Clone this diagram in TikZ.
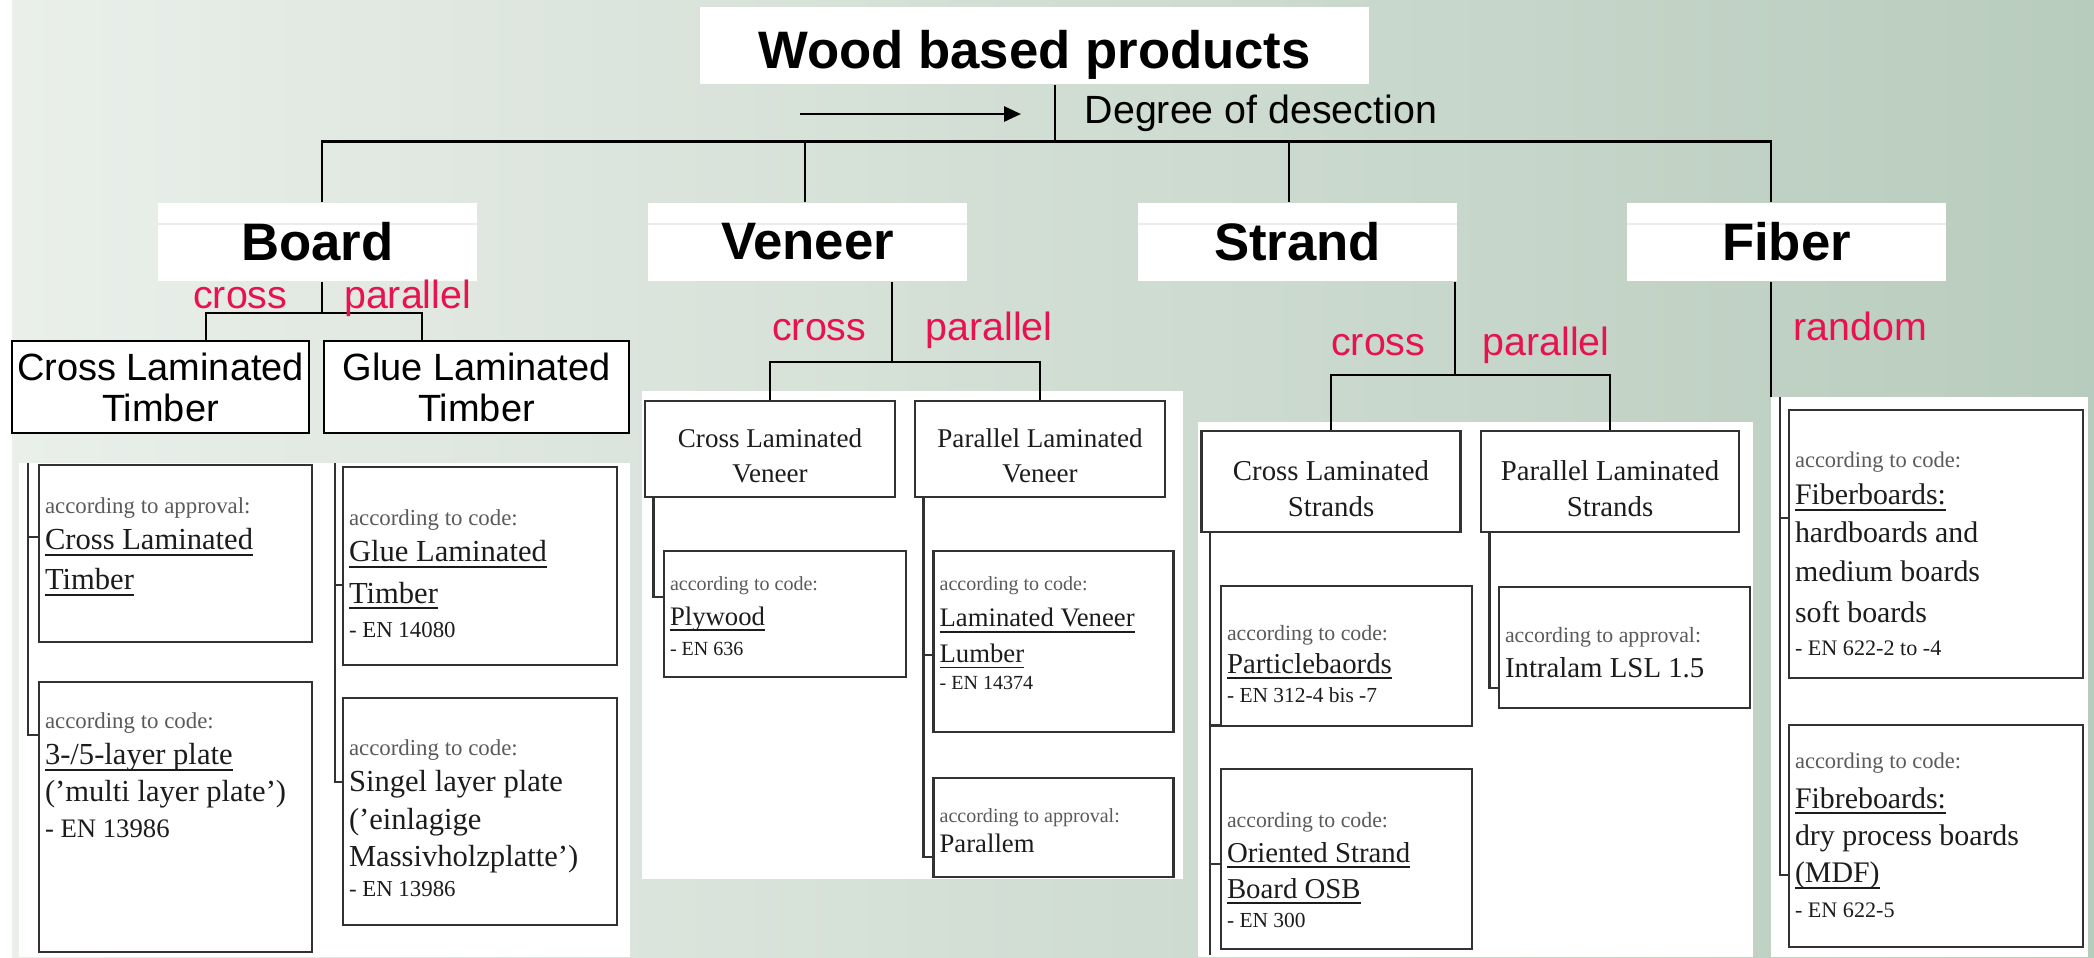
\documentclass[tikz,border=0pt]{standalone}
\usepackage{fontspec}
\setmainfont{Liberation Serif}
\setsansfont{Liberation Sans}
\usepackage{tikz}
\usetikzlibrary{arrows.meta}
\usepackage{xcolor}
\definecolor{BgLeft}{RGB}{234,239,234}
\definecolor{BgRight}{RGB}{184,204,189}
\definecolor{LabelRed}{RGB}{232,18,78}
\definecolor{AccGray}{RGB}{90,90,90}
\definecolor{TxtDark}{RGB}{28,28,28}
\definecolor{PanLine}{RGB}{50,50,50}
\setlength{\parindent}{0pt}
\newcommand{\pcell}[3]{\parbox[c][#1][t]{#2}{#3}}
\newcommand{\acctxt}[4]{{\fontsize{#1}{#2}\selectfont\leavevmode\color{AccGray}\rule{0pt}{#3}#4\par}}
\newcommand{\maintxt}[3]{{\fontsize{#1}{#2}\selectfont\leavevmode\color{TxtDark}#3\par}}
\newcommand{\hdrtxt}[4]{\centering\fontsize{#1}{#2}\selectfont\leavevmode\rule{0pt}{#3}#4\par}
\newcommand{\ulx}[1]{\underline{\smash{#1}}}

\begin{document}
\begin{tikzpicture}[x=1cm,y=1cm,
  headbox/.style={fill=white,minimum width=6.69cm,minimum height=0.77cm,inner sep=0pt,
                  font=\sffamily\bfseries\fontsize{15}{18}\selectfont,text height=0.45cm,text depth=0cm},
  catbox/.style={fill=white,minimum width=3.19cm,minimum height=0.78cm,inner sep=0pt,
                 font=\sffamily\bfseries\fontsize{15}{18}\selectfont,
                 path picture={\draw[black!8,line width=0.5pt] ([yshift=-0.21cm]path picture bounding box.north west) -- ([yshift=-0.21cm]path picture bounding box.north east);}},
  tbox/.style={draw=black,line width=0.7pt,fill=white,align=center,inner sep=0pt,
               font=\sffamily\fontsize{10.8}{11.7}\selectfont},
  hbox/.style={draw=PanLine,line width=0.8pt,fill=white,inner sep=0pt,text=TxtDark},
  pbox/.style={draw=PanLine,line width=0.8pt,fill=white,inner xsep=0.06cm,inner ysep=0pt},
  redlab/.style={text=LabelRed,font=\sffamily\fontsize{11.2}{13}\selectfont,inner sep=0pt},
  note/.style={font=\sffamily\fontsize{11.2}{13}\selectfont,inner sep=0pt},
  ln/.style={line width=0.8pt,black},
  pln/.style={line width=0.7pt,PanLine},
  arr/.style={-{Triangle[length=0.17cm,width=0.15cm]},line width=0.8pt,black}
]
\useasboundingbox (0,0) rectangle (20.94,-9.57);
\fill[white] (0,0) rectangle (20.94,-9.57);
\shade[left color=BgLeft,right color=BgRight] (0.12,0) rectangle (20.94,-9.57);

\node[headbox] (wbp) at (10.345,-0.455) {Wood based products};
\coordinate (arrS) at (8.00,-1.14);
\coordinate (arrE) at (10.21,-1.14);
\draw[arr] (arrS) -- (arrE);
\coordinate (busT) at (10.55,-1.415);
\draw[ln] (wbp.south -| busT) -- (busT);
\node[note,anchor=base west] (deg) at (10.84,-1.23) {Degree of desection};

\node[catbox] (board) at (3.175,-2.42) {Board};
\node[catbox] (veneer) at (8.075,-2.42) {Veneer};
\node[catbox] (strand) at (12.975,-2.42) {Strand};
\node[catbox] (fiber) at (17.865,-2.42) {Fiber};
\draw[ln] (board.north -| 3.22,0) |- (busT) -| (fiber.north -| 17.71,0);
\draw[ln] (veneer.north -| 8.05,0) -- (busT -| 8.05,0);
\draw[ln] (strand.north -| 12.89,0) -- (busT -| 12.89,0);

\coordinate (bJ) at (3.22,-3.13);
\draw[ln] (board.south -| bJ) -- (bJ);
\node[tbox,minimum width=2.97cm,minimum height=0.92cm] (clt) at (1.605,-3.87) {Cross Laminated\\Timber};
\node[tbox,minimum width=3.05cm,minimum height=0.92cm] (glt) at (4.765,-3.87) {Glue Laminated\\Timber};
\draw[ln] (clt.north -| 2.06,0) |- (bJ) -| (glt.north -| 4.22,0);
\node[redlab,anchor=base east] (bcross) at (2.88,-3.08) {cross};
\node[redlab,anchor=base west] (bpar) at (3.435,-3.08) {parallel};

\fill[white] (0.19,-4.63) rectangle (6.30,-9.57);
\node[pbox] (cltA) at (1.755,-5.535) {\pcell{1.77cm}{2.61cm}{%
  \acctxt{6.5}{8}{0.48cm}{according to approval:}\maintxt{8.7}{10.5}{\ulx{Cross Laminated}}\maintxt{8.7}{11.4}{\ulx{Timber}}}};
\node[pbox] (layA) at (1.755,-8.17) {\pcell{2.70cm}{2.61cm}{%
  \acctxt{6.5}{8}{0.46cm}{according to code:}\maintxt{8.7}{10.5}{\ulx{3-/5-layer plate}}\maintxt{8.7}{10.5}{('multi layer plate')}\maintxt{7.6}{10.2}{- EN 13986}}};
\node[pbox] (gltA) at (4.80,-5.66) {\pcell{1.98cm}{2.62cm}{%
  \acctxt{6.5}{8}{0.58cm}{according to code:}\maintxt{8.7}{10.5}{\ulx{Glue Laminated}}\maintxt{8.7}{11.7}{\ulx{Timber}}\maintxt{6.5}{9.7}{- EN 14080}}};
\node[pbox] (sglA) at (4.80,-8.115) {\pcell{2.27cm}{2.62cm}{%
  \acctxt{6.5}{8}{0.57cm}{according to code:}\maintxt{8.7}{10.5}{Singel layer plate}\maintxt{8.7}{10.8}{('einlagige}\maintxt{8.7}{10.5}{Massivholzplatte')}\maintxt{6.5}{8.5}{- EN 13986}}};
\coordinate (bpL) at (0.28,-4.63);
\coordinate (bpR) at (3.35,-4.63);
\draw[pln] (bpL) |- ([yshift=8.2mm]layA.west);
\draw[pln] ([yshift=1.65mm]cltA.west) -| (bpL);
\draw[pln] (bpR) |- ([yshift=2.95mm]sglA.west);
\draw[pln] ([yshift=-1.9mm]gltA.west) -| (bpR);

\coordinate (vJ) at (8.92,-3.62);
\draw[ln] (veneer.south -| vJ) -- (vJ);
\node[redlab,anchor=base east] (vcross) at (8.67,-3.40) {cross};
\node[redlab,anchor=base west] (vpar) at (9.25,-3.40) {parallel};
\fill[white] (6.42,-3.91) rectangle (11.83,-8.79);
\node[hbox] (clv) at (7.70,-4.49) {\pcell{0.96cm}{2.5cm}{\hdrtxt{7.7}{10.2}{0.46cm}{Cross Laminated\\Veneer}}};
\node[hbox] (plv) at (10.40,-4.49) {\pcell{0.96cm}{2.5cm}{\hdrtxt{7.7}{10.2}{0.46cm}{Parallel Laminated\\Veneer}}};
\draw[ln] (clv.north) |- (vJ) -| (plv.north);
\node[pbox] (plyA) at (7.85,-6.14) {\pcell{1.26cm}{2.30cm}{%
  \acctxt{5.7}{7}{0.39cm}{according to code:}\maintxt{7.6}{10}{\ulx{Plywood}}\maintxt{5.7}{8.5}{- EN 636}}};
\node[pbox] (lvlA) at (10.536,-6.415) {\pcell{1.81cm}{2.28cm}{%
  \acctxt{5.7}{7}{0.39cm}{according to code:}\maintxt{7.6}{10.5}{\ulx{Laminated Veneer}}\maintxt{7.6}{10.2}{\ulx{Lumber}}\maintxt{5.7}{7.7}{- EN 14374}}};
\node[pbox] (parA) at (10.536,-8.275) {\pcell{0.99cm}{2.28cm}{%
  \acctxt{5.7}{7}{0.44cm}{according to approval:}\maintxt{7.6}{8.8}{Parallem}}};
\draw[pln] ([xshift=1mm]clv.south west) |- ([yshift=1.7mm]plyA.west);
\draw[pln] ([xshift=1mm]plv.south west) |- ([yshift=-2.95mm]parA.west);
\draw[pln] ([yshift=-1.35mm]lvlA.west) -| ([xshift=1mm]plv.south west);

\coordinate (sJ) at (14.55,-3.75);
\draw[ln] (strand.south -| sJ) -- (sJ);
\node[redlab,anchor=base east] (scross) at (14.26,-3.55) {cross};
\node[redlab,anchor=base west] (spar) at (14.82,-3.55) {parallel};
\fill[white] (11.98,-4.22) rectangle (17.53,-9.57);
\node[hbox] (cls) at (13.31,-4.815) {\pcell{1.01cm}{2.59cm}{\hdrtxt{8.2}{10.5}{0.49cm}{Cross Laminated\\Strands}}};
\node[hbox] (pls) at (16.10,-4.815) {\pcell{1.01cm}{2.58cm}{\hdrtxt{8.2}{10.5}{0.49cm}{Parallel Laminated\\Strands}}};
\draw[ln] (cls.north) |- (sJ) -| (pls.north);
\node[pbox] (pbA) at (13.465,-6.56) {\pcell{1.40cm}{2.39cm}{%
  \acctxt{6.2}{7.5}{0.54cm}{according to code:}\maintxt{8.2}{9.4}{\ulx{Particlebaords}}\maintxt{6.1}{8.5}{- EN 312-4 bis -7}}};
\node[pbox] (osbA) at (13.465,-8.59) {\pcell{1.80cm}{2.39cm}{%
  \acctxt{6.2}{7.5}{0.58cm}{according to code:}\maintxt{8.2}{10}{\ulx{Oriented Strand}}\maintxt{8.2}{10.2}{\ulx{Board OSB}}\maintxt{6.1}{8.3}{- EN 300}}};
\node[pbox] (lslA) at (16.245,-6.475) {\pcell{1.21cm}{2.39cm}{%
  \acctxt{6.2}{7.5}{0.55cm}{according to approval:}\maintxt{8.2}{10}{Intralam LSL 1.5}}};
\coordinate (sL) at ([xshift=1mm]cls.south west);
\coordinate (spBot) at (0,-9.55);
\draw[pln] (sL) -- (sL |- spBot);
\draw[pln] ([yshift=0.2mm]pbA.south west) -| (sL);
\draw[pln] ([yshift=-0.5mm]osbA.west) -| (sL);
\draw[pln] ([xshift=1mm]pls.south west) |- ([yshift=-4.05mm]lslA.west);

\node[redlab,anchor=base west] (frand) at (17.93,-3.40) {random};
\fill[white] (17.71,-3.97) rectangle (20.88,-9.57);
\node[pbox] (fbA) at (19.36,-5.44) {\pcell{2.68cm}{2.82cm}{%
  \acctxt{6.4}{8}{0.57cm}{according to code:}\maintxt{8.5}{10.8}{\ulx{Fiberboards:}}\maintxt{8.5}{10.8}{hardboards and}\maintxt{8.5}{11.1}{medium boards}\maintxt{8.5}{11.4}{soft boards}\maintxt{6.3}{9.4}{- EN 622-2 to -4}}};
\node[pbox] (mdfA) at (19.36,-8.36) {\pcell{2.22cm}{2.82cm}{%
  \acctxt{6.4}{8}{0.43cm}{according to code:}\maintxt{8.5}{11.4}{\ulx{Fibreboards:}}\maintxt{8.5}{10.5}{dry process boards}\maintxt{8.5}{10.8}{\ulx{(MDF)}}\maintxt{6.3}{9.7}{- EN 622-5}}};
\coordinate (fL) at ([xshift=-1.55mm]fiber.south);
\coordinate (fLi) at (17.80,-3.97);
\draw[ln] (fL) -- (fL |- fLi);
\draw[pln] (fLi) |- ([yshift=-3.9mm]mdfA.west);
\draw[pln] ([yshift=2.6mm]fbA.west) -| (fLi);
\end{tikzpicture}
\end{document}
